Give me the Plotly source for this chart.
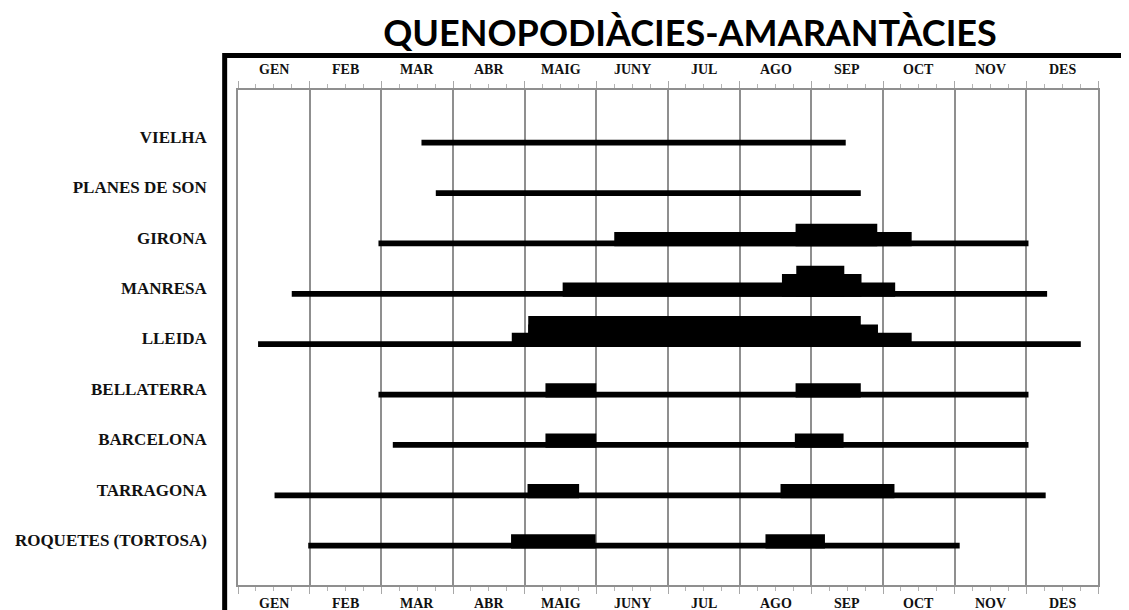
import plotly.graph_objects as go

# ---------------- data ----------------
months = ["GEN", "FEB", "MAR", "ABR", "MAIG", "JUNY", "JUL", "AGO", "SEP", "OCT", "NOV", "DES"]
stations = ["VIELHA", "PLANES DE SON", "GIRONA", "MANRESA", "LLEIDA",
            "BELLATERRA", "BARCELONA", "TARRAGONA", "ROQUETES (TORTOSA)"]

# step profile of each station: edges in months (0 = 1 Jan, 12 = 31 Dec)
# and intensity level of each step between consecutive edges
vielha_edges = [2.56, 8.48]
vielha_levels = [1]
planes_edges = [2.76, 8.69]
planes_levels = [1]
girona_edges = [1.96, 5.25, 7.78, 8.92, 9.40, 11.03]
girona_levels = [1, 2, 3, 2, 1]
manresa_edges = [0.75, 4.53, 7.59, 7.79, 8.46, 8.70, 9.17, 11.29]
manresa_levels = [1, 2, 3, 4, 3, 2, 1]
lleida_edges = [0.28, 3.82, 4.05, 8.69, 8.93, 9.40, 11.76]
lleida_levels = [1, 2, 4, 3, 2, 1]
bellaterra_edges = [1.96, 4.29, 5.00, 7.78, 8.69, 11.03]
bellaterra_levels = [1, 2, 1, 2, 1]
barcelona_edges = [2.16, 4.29, 5.00, 7.77, 8.45, 11.03]
barcelona_levels = [1, 2, 1, 2, 1]
tarragona_edges = [0.51, 4.04, 4.76, 7.57, 9.16, 11.27]
tarragona_levels = [1, 2, 1, 2, 1]
roquetes_edges = [0.98, 3.81, 4.99, 7.36, 8.19, 10.07]
roquetes_levels = [1, 2, 1, 2, 1]

profiles = [
    (vielha_edges, vielha_levels),
    (planes_edges, planes_levels),
    (girona_edges, girona_levels),
    (manresa_edges, manresa_levels),
    (lleida_edges, lleida_levels),
    (bellaterra_edges, bellaterra_levels),
    (barcelona_edges, barcelona_levels),
    (tarragona_edges, tarragona_levels),
    (roquetes_edges, roquetes_levels),
]

# ---------------- style ----------------
BASE_H = 0.115      # thickness of level 1 (row units)
STEP_H = 0.167      # extra thickness per level
BOTTOM = -0.17      # bar bottom relative to the label position
GRID = "#8f8f8f"
LABEL_FONT = dict(family="Liberation Serif", size=14, color="#111111", weight="bold")

fig = go.Figure()
n = len(stations)
rows = [n - 1 - i for i in range(n)]

for name, row, (edges, levels) in zip(stations, rows, profiles):
    starts, lengths, widths = [], [], []
    for L in range(1, max(levels) + 1):
        i = 0
        while i < len(levels):
            if levels[i] >= L:
                j = i
                while j + 1 < len(levels) and levels[j + 1] >= L:
                    j += 1
                starts.append(edges[i])
                lengths.append(edges[j + 1] - edges[i])
                widths.append(BASE_H + STEP_H * (L - 1))
                i = j + 1
            else:
                i += 1
    fig.add_trace(go.Bar(
        orientation="h", name=name,
        y=[row] * len(starts), base=starts, x=lengths,
        width=widths, offset=[BOTTOM] * len(starts),
        marker=dict(color="black", line=dict(width=0)),
        showlegend=False, hoverinfo="skip",
    ))

# month labels, top and bottom
for k, m in enumerate(months):
    for ypos in (1 + 20 / 495, -18 / 495):
        fig.add_annotation(x=k + 0.5, xref="x", y=ypos, yref="paper",
                           text=m, showarrow=False, yanchor="middle",
                           font=LABEL_FONT)

# heavy frame (top and left)
fig.add_shape(type="line", xref="paper", yref="paper",
              x0=-0.0155, x1=1.05, y0=1.0697, y1=1.0697,
              line=dict(color="black", width=5))
fig.add_shape(type="line", xref="paper", yref="paper",
              x0=-0.0155, x1=-0.0155, y0=1.0745, y1=-0.07,
              line=dict(color="black", width=5))

fig.update_layout(
    width=1121, height=602,
    margin=dict(l=230, r=31, t=82, b=25),
    paper_bgcolor="white", plot_bgcolor="white",
    barmode="overlay",
    title=dict(text="QUENOPODIÀCIES-AMARANTÀCIES", x=0.6084, xanchor="center",
               y=1 - 25 / 602, yanchor="middle",
               font=dict(family="Lato", size=36, color="black", weight="bold")),
    xaxis=dict(range=[0, 12], tickvals=list(range(13)), showticklabels=False,
               ticks="outside", ticklen=7, tickcolor="#a8a8a8", tickwidth=1,
               minor=dict(dtick=0.25, tick0=0, ticks="outside", ticklen=4,
                          tickcolor="#b4b4b4", showgrid=False),
               showgrid=True, gridcolor=GRID, gridwidth=1.5,
               showline=True, linecolor=GRID, linewidth=1.5, mirror="ticks",
               zeroline=False, fixedrange=True, automargin=False),
    yaxis=dict(range=[-0.893, 8.933], tickvals=rows, ticktext=stations,
               ticks="outside", ticklen=26, tickcolor="rgba(0,0,0,0)",
               tickfont=dict(family="Liberation Serif", size=17, color="#111111", weight="bold"),
               showgrid=False, zeroline=False,
               showline=True, linecolor=GRID, linewidth=1.5, mirror=True,
               fixedrange=True, automargin=False),
)

fig.write_html("out.html")
